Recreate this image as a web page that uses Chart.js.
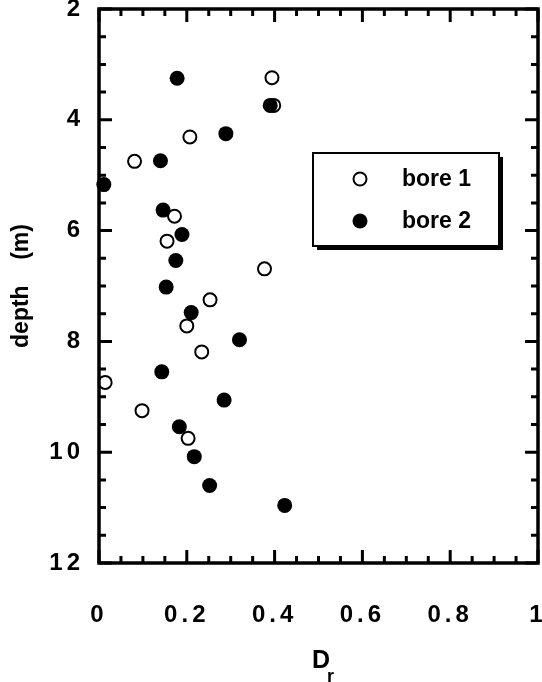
<!DOCTYPE html>
<html>
<head>
<meta charset="utf-8">
<script src="https://cdn.jsdelivr.net/npm/chart.js@4.4.1/dist/chart.umd.min.js"></script>
<style>
  html, body { margin: 0; padding: 0; background: #fff; }
  #chart { display: block; }
</style>
</head>
<body>
<canvas id="chart" width="542" height="682"></canvas>
<script>
// values
var bore1_dr    = [0.394, 0.398, 0.207, 0.081, 0.172, 0.155, 0.377, 0.253, 0.200, 0.234, 0.014, 0.098, 0.203];
var bore1_depth = [3.24, 3.74, 4.31, 4.75, 5.74, 6.19, 6.69, 7.25, 7.72, 8.19, 8.74, 9.25, 9.75];
var bore2_dr    = [0.178, 0.390, 0.289, 0.140, 0.011, 0.146, 0.189, 0.175, 0.153, 0.210, 0.320, 0.143, 0.285, 0.183, 0.217, 0.252, 0.423];
var bore2_depth = [3.25, 3.74, 4.25, 4.74, 5.17, 5.63, 6.07, 6.54, 7.02, 7.48, 7.97, 8.55, 9.06, 9.54, 10.08, 10.60, 10.96];
var series_labels = ['bore 1', 'bore 2'];
var x_labels = [0, 0.2, 0.4, 0.6, 0.8, 1];
var y_labels = [2, 4, 6, 8, 10, 12];

var FONT = "'Liberation Sans Narrow', 'Liberation Sans', Arial, Helvetica, sans-serif";

function toPoints(xs, ys) {
  return xs.map(function (x, i) { return { x: x, y: ys[i] }; });
}

function isMajor(list, v) {
  return list.some(function (t) { return Math.abs(t - v) < 1e-6; });
}

// scales keep the plot area fixed, labels may hang outside it
function noPad(s) {
  s.paddingTop = 0;
  s.paddingBottom = 0;
  s.paddingLeft = 0;
  s.paddingRight = 0;
}

// frame, inward ticks on all four sides, legend box, axis titles
var framePlugin = {
  id: 'frame',
  beforeDraw: function (chart) {
    chart.ctx.letterSpacing = '4px';
  },
  beforeDatasetsDraw: function (chart) {
    chart.ctx.letterSpacing = '0px';
  },
  afterDatasetsDraw: function (chart) {
    var ctx = chart.ctx;
    var a = chart.chartArea;
    var xs = chart.scales.x;
    var ys = chart.scales.y;
    ctx.save();
    ctx.letterSpacing = '0px';
    ctx.strokeStyle = '#000';
    ctx.lineWidth = 3.5;
    ctx.strokeRect(a.left, a.top, a.right - a.left, a.bottom - a.top);

    ctx.lineWidth = 3;
    ctx.beginPath();
    xs.ticks.forEach(function (t) {
      var px = xs.getPixelForValue(t.value);
      var len = isMajor(x_labels, t.value) ? 13 : 7;
      ctx.moveTo(px, a.bottom); ctx.lineTo(px, a.bottom - len);
      ctx.moveTo(px, a.top); ctx.lineTo(px, a.top + len);
    });
    ys.ticks.forEach(function (t) {
      var py = ys.getPixelForValue(t.value);
      var len = isMajor(y_labels, t.value) ? 13 : 7;
      ctx.moveTo(a.left, py); ctx.lineTo(a.left + len, py);
      ctx.moveTo(a.right, py); ctx.lineTo(a.right - len, py);
    });
    ctx.stroke();

    // legend box with drop shadow
    var bx = 313, by = 153, bw = 186, bh = 93;
    ctx.fillStyle = '#000';
    ctx.fillRect(bx + 4, by + 4, bw, bh);
    ctx.fillStyle = '#fff';
    ctx.fillRect(bx, by, bw, bh);
    ctx.lineWidth = 2;
    ctx.strokeRect(bx, by, bw, bh);

    ctx.font = 'bold 23px ' + FONT;
    ctx.textAlign = 'left';
    ctx.textBaseline = 'middle';
    chart.data.datasets.forEach(function (ds, i) {
      var cy = by + 26 + i * 42;
      ctx.beginPath();
      ctx.arc(bx + 47, cy, ds.pointRadius, 0, Math.PI * 2);
      ctx.fillStyle = ds.pointBackgroundColor;
      ctx.fill();
      if (ds.pointBorderWidth > 0) {
        ctx.lineWidth = ds.pointBorderWidth;
        ctx.strokeStyle = ds.pointBorderColor;
        ctx.stroke();
      }
      ctx.fillStyle = '#000';
      ctx.fillText(ds.label, bx + 89, cy + 1);
    });

    // x title: D with subscript r
    ctx.fillStyle = '#000';
    ctx.textBaseline = 'alphabetic';
    ctx.font = 'bold 25px ' + FONT;
    ctx.fillText('D', 312, 668);
    ctx.font = 'bold 18px ' + FONT;
    ctx.fillText('r', 327, 682);

    // y title
    ctx.translate(22, (a.top + a.bottom) / 2);
    ctx.rotate(-Math.PI / 2);
    ctx.textAlign = 'center';
    ctx.textBaseline = 'middle';
    ctx.font = 'bold 23px ' + FONT;
    ctx.fillText('depth    (m)', 0, 0);
    ctx.restore();
  }
};

var tickFont = { family: FONT, size: 24, weight: 'bold' };

new Chart(document.getElementById('chart').getContext('2d'), {
  type: 'scatter',
  data: {
    datasets: [{
      label: series_labels[0],
      data: toPoints(bore1_dr, bore1_depth),
      pointRadius: 6.5,
      pointBackgroundColor: '#fff',
      pointBorderColor: '#000',
      pointBorderWidth: 2,
      order: 1
    }, {
      label: series_labels[1],
      data: toPoints(bore2_dr, bore2_depth),
      pointRadius: 7.5,
      pointBackgroundColor: '#000',
      pointBorderColor: '#000',
      pointBorderWidth: 0,
      order: 0
    }]
  },
  options: {
    responsive: false,
    animation: false,
    devicePixelRatio: 1,
    clip: false,
    layout: { autoPadding: false, padding: { top: 9, right: 4, left: 0, bottom: 0 } },
    plugins: { legend: { display: false }, tooltip: { enabled: false } },
    scales: {
      x: {
        type: 'linear',
        min: 0,
        max: 1,
        grid: { display: false, drawTicks: false },
        border: { display: false },
        ticks: {
          stepSize: 0.05,
          maxTicksLimit: 100,
          autoSkip: false,
          maxRotation: 0,
          padding: 38,
          color: '#000',
          font: tickFont,
          callback: function (v) { return isMajor(x_labels, v) ? String(Math.round(v * 10) / 10) : ''; }
        },
        afterFit: function (s) { s.height = 119; noPad(s); }
      },
      y: {
        type: 'linear',
        reverse: true,
        min: 2,
        max: 12,
        grid: { display: false, drawTicks: false },
        border: { display: false },
        ticks: {
          stepSize: 0.5,
          maxTicksLimit: 100,
          autoSkip: false,
          padding: 15,
          color: '#000',
          font: tickFont,
          callback: function (v) { return isMajor(y_labels, v) ? String(v) : ''; }
        },
        afterFit: function (s) { s.width = 99; noPad(s); }
      }
    }
  },
  plugins: [framePlugin]
});
</script>
</body>
</html>
